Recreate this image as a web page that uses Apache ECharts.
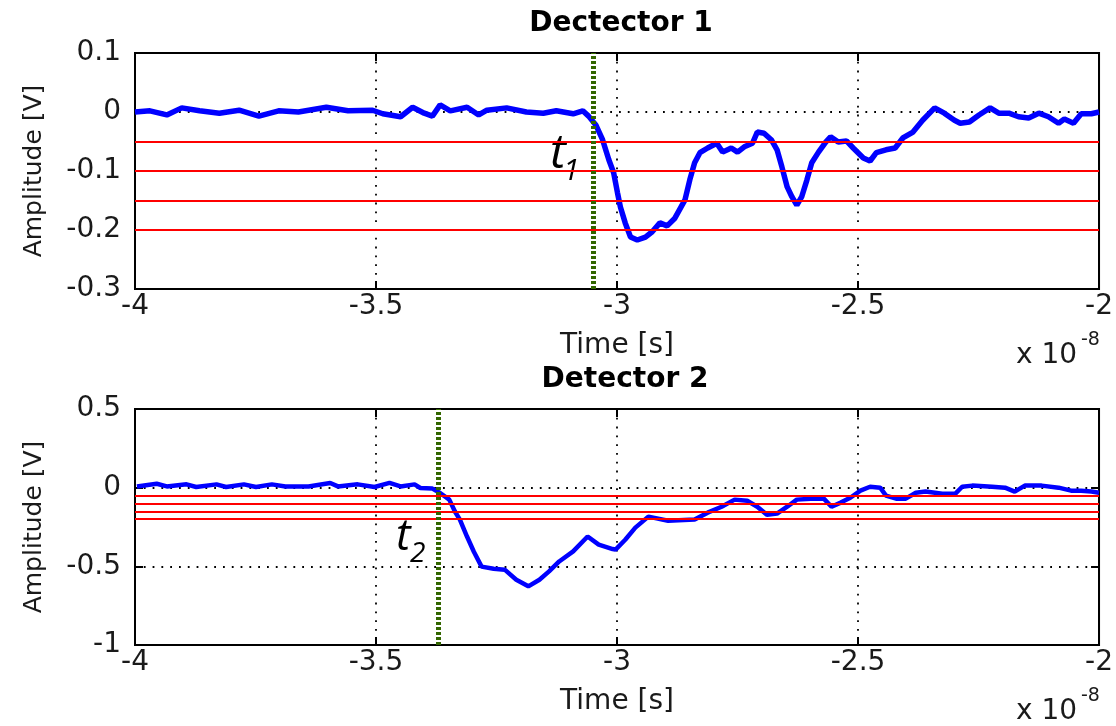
<!DOCTYPE html>
<html>
<head>
<meta charset="utf-8">
<script src="https://cdn.jsdelivr.net/npm/echarts@6/dist/echarts.min.js"></script>
<style>
  html, body { margin: 0; padding: 0; background: #fff; }
  #chart { width: 1116px; height: 726px; }
</style>
</head>
<body>
<div id="chart"></div>
<script>
// time in units of 1e-8 s, amplitude in V
var d1Time = [-4.000, -3.969, -3.934, -3.903, -3.866, -3.825, -3.784, -3.743, -3.702, -3.661,
  -3.603, -3.558, -3.507, -3.486, -3.449, -3.424, -3.400, -3.383, -3.367, -3.346,
  -3.311, -3.287, -3.270, -3.229, -3.188, -3.153, -3.126, -3.091, -3.071, -3.059,
  -3.044, -3.030, -3.017, -3.007, -2.999, -2.993, -2.983, -2.972, -2.958, -2.941,
  -2.927, -2.911, -2.896, -2.880, -2.859, -2.849, -2.839, -2.828, -2.812, -2.793,
  -2.781, -2.763, -2.750, -2.736, -2.719, -2.709, -2.695, -2.680, -2.668, -2.658,
  -2.647, -2.637, -2.627, -2.617, -2.606, -2.596, -2.582, -2.567, -2.557, -2.541,
  -2.524, -2.510, -2.489, -2.475, -2.462, -2.442, -2.423, -2.407, -2.386, -2.366,
  -2.341, -2.321, -2.300, -2.288, -2.269, -2.249, -2.226, -2.208, -2.187, -2.167,
  -2.146, -2.125, -2.105, -2.084, -2.072, -2.053, -2.037, -2.016, -2.000];
var d1Amp = [0.000, 0.002, -0.005, 0.007, 0.002, -0.002, 0.003, -0.007, 0.002, 0.000,
  0.008, 0.002, 0.003, -0.003, -0.008, 0.008, -0.002, -0.007, 0.012, 0.002,
  0.008, -0.005, 0.003, 0.007, 0.000, -0.002, 0.002, -0.003, 0.002, -0.007,
  -0.022, -0.047, -0.081, -0.103, -0.137, -0.161, -0.188, -0.212, -0.217, -0.212,
  -0.203, -0.188, -0.193, -0.180, -0.149, -0.115, -0.086, -0.069, -0.061, -0.053,
  -0.068, -0.061, -0.068, -0.059, -0.053, -0.034, -0.036, -0.047, -0.064, -0.093,
  -0.127, -0.144, -0.158, -0.144, -0.115, -0.086, -0.068, -0.051, -0.042, -0.051,
  -0.049, -0.061, -0.078, -0.083, -0.069, -0.064, -0.061, -0.044, -0.034, -0.014,
  0.007, -0.002, -0.014, -0.019, -0.017, -0.005, 0.007, -0.002, -0.002, -0.008,
  -0.010, -0.002, -0.008, -0.019, -0.012, -0.019, -0.003, -0.003, 0.000];

var d2Time = [-3.996, -3.955, -3.934, -3.893, -3.873, -3.831, -3.811, -3.774, -3.749, -3.716,
  -3.688, -3.640, -3.595, -3.579, -3.538, -3.503, -3.472, -3.449, -3.420, -3.408,
  -3.383, -3.367, -3.348, -3.336, -3.326, -3.311, -3.297, -3.281, -3.256, -3.233,
  -3.209, -3.184, -3.161, -3.141, -3.120, -3.091, -3.061, -3.038, -3.009, -3.003,
  -2.983, -2.962, -2.935, -2.894, -2.839, -2.812, -2.783, -2.756, -2.730, -2.709,
  -2.689, -2.668, -2.647, -2.627, -2.598, -2.571, -2.555, -2.536, -2.516, -2.495,
  -2.475, -2.454, -2.442, -2.421, -2.401, -2.380, -2.360, -2.325, -2.298, -2.284,
  -2.263, -2.222, -2.195, -2.175, -2.154, -2.119, -2.084, -2.058, -2.037, -2.016, -2.000];
var d2Amp = [0.008, 0.025, 0.008, 0.021, 0.004, 0.021, 0.004, 0.021, 0.004, 0.021,
  0.008, 0.008, 0.030, 0.008, 0.021, 0.004, 0.030, 0.008, 0.021, -0.002,
  -0.006, -0.034, -0.076, -0.153, -0.203, -0.312, -0.407, -0.502, -0.515, -0.521,
  -0.585, -0.627, -0.585, -0.532, -0.469, -0.405, -0.310, -0.362, -0.390, -0.394,
  -0.331, -0.254, -0.184, -0.210, -0.203, -0.159, -0.121, -0.076, -0.083, -0.121,
  -0.172, -0.165, -0.121, -0.076, -0.070, -0.070, -0.121, -0.095, -0.064, -0.019,
  0.006, 0.000, -0.051, -0.070, -0.070, -0.032, -0.025, -0.038, -0.038, 0.006,
  0.013, 0.006, 0.000, -0.025, 0.013, 0.013, 0.000, -0.019, -0.019, -0.025, -0.032];

var thresholds = [-0.05, -0.1, -0.15, -0.2];
var onsetTimes = [-3.046, -3.371];
var titles = ["Dectector 1", "Detector 2"];
var yRanges = [[-0.3, 0.1, 0.1], [-1, 0.5, 0.5]];

var FONT = "DejaVu Sans";
var TXT = "#1a1a1a";

function zip(a, b) {
  return a.map(function(v, i) { return [v, b[i]]; });
}

function markLines(onset) {
  var items = thresholds.map(function(v) {
    return { yAxis: v, lineStyle: { color: "#ff0000", width: 2, type: "solid" } };
  });
  items.push({ xAxis: onset, lineStyle: { color: "#336600", width: 5, type: [3, 2] } });
  return {
    silent: true,
    symbol: ["none", "none"],
    label: { show: false },
    animation: false,
    data: items
  };
}

var grids = [
  { left: 135, top: 53, width: 973, height: 236 },
  { left: 135, top: 409, width: 973, height: 236 }
];

var xAxes = [], yAxes = [];
grids.forEach(function(g, i) {
  g.show = true;
  g.borderColor = "#000";
  g.borderWidth = 2;
  xAxes.push({
    gridIndex: i, type: "value", min: -4, max: -2, interval: 0.5, position: "bottom",
    name: "Time [s]", nameLocation: "middle", nameGap: 43,
    nameTextStyle: { fontFamily: FONT, fontSize: 28, color: TXT },
    axisLine: { show: true, onZero: false, lineStyle: { color: "#000", width: 2 } },
    axisTick: { show: true, inside: true, length: 8, lineStyle: { color: "#000", width: 2 } },
    axisLabel: { fontFamily: FONT, fontSize: 28, color: TXT, margin: 4 },
    splitLine: { show: true, showMinLine: false, showMaxLine: false,
      lineStyle: { color: "#000", width: 1.8, type: [1.8, 7] } }
  });
  xAxes.push({
    gridIndex: i, type: "value", min: -4, max: -2, interval: 0.5, position: "top",
    axisLine: { show: true, onZero: false, lineStyle: { color: "#000", width: 2 } },
    axisTick: { show: true, inside: true, length: 8, lineStyle: { color: "#000", width: 2 } },
    axisLabel: { show: false }, splitLine: { show: false }
  });
  var r = yRanges[i];
  yAxes.push({
    gridIndex: i, type: "value", min: r[0], max: r[1], interval: r[2], position: "left",
    name: "Amplitude [V]", nameLocation: "middle", nameGap: 88, nameRotate: 90,
    nameTextStyle: { fontFamily: FONT, fontSize: 25, color: TXT },
    axisLine: { show: true, onZero: false, lineStyle: { color: "#000", width: 2 } },
    axisTick: { show: true, inside: true, length: 8, lineStyle: { color: "#000", width: 2 } },
    axisLabel: { fontFamily: FONT, fontSize: 28, color: TXT, margin: 14 },
    splitLine: { show: true, showMinLine: false, showMaxLine: false,
      lineStyle: { color: "#000", width: 1.8, type: [1.8, 7] } }
  });
  yAxes.push({
    gridIndex: i, type: "value", min: r[0], max: r[1], interval: r[2], position: "right",
    axisLine: { show: true, onZero: false, lineStyle: { color: "#000", width: 2 } },
    axisTick: { show: true, inside: true, length: 8, lineStyle: { color: "#000", width: 2 } },
    axisLabel: { show: false }, splitLine: { show: false }
  });
});

var chart = echarts.init(document.getElementById("chart"), null, { renderer: "canvas" });

chart.setOption({
  animation: false,
  backgroundColor: "#fff",
  title: [
    { text: titles[0], left: 616, top: 5, textAlign: "center",
      textStyle: { fontFamily: FONT, fontSize: 28, fontWeight: "bold", color: "#000" } },
    { text: titles[1], left: 620, top: 361, textAlign: "center",
      textStyle: { fontFamily: FONT, fontSize: 28, fontWeight: "bold", color: "#000" } }
  ],
  grid: grids,
  xAxis: xAxes,
  yAxis: yAxes,
  series: [
    { type: "line", xAxisIndex: 0, yAxisIndex: 0, data: zip(d1Time, d1Amp),
      showSymbol: false, lineStyle: { color: "#0000ff", width: 5.5 },
      markLine: markLines(onsetTimes[0]) },
    { type: "line", xAxisIndex: 2, yAxisIndex: 2, data: zip(d2Time, d2Amp),
      showSymbol: false, lineStyle: { color: "#0000ff", width: 4.5 },
      markLine: markLines(onsetTimes[1]) }
  ],
  graphic: [
    { type: "text", left: 1016, top: 342, style: { text: "x 10", font: "28px " + FONT, fill: TXT } },
    { type: "text", left: 1081, top: 331, style: { text: "-8", font: "19px " + FONT, fill: TXT } },
    { type: "text", left: 1016, top: 698, style: { text: "x 10", font: "28px " + FONT, fill: TXT } },
    { type: "text", left: 1081, top: 687, style: { text: "-8", font: "19px " + FONT, fill: TXT } },
    { type: "text", left: 550, top: 130, style: { text: "t", font: "italic 48px 'Open Sans'", fill: "#000" } },
    { type: "text", left: 563, top: 156, style: { text: "1", font: "italic 30px 'Open Sans'", fill: "#000" } },
    { type: "text", left: 396, top: 515, style: { text: "t", font: "italic 44px 'Open Sans'", fill: "#000" } },
    { type: "text", left: 410, top: 540, style: { text: "2", font: "italic 28px 'Open Sans'", fill: "#000" } }
  ]
});
</script>
</body>
</html>
